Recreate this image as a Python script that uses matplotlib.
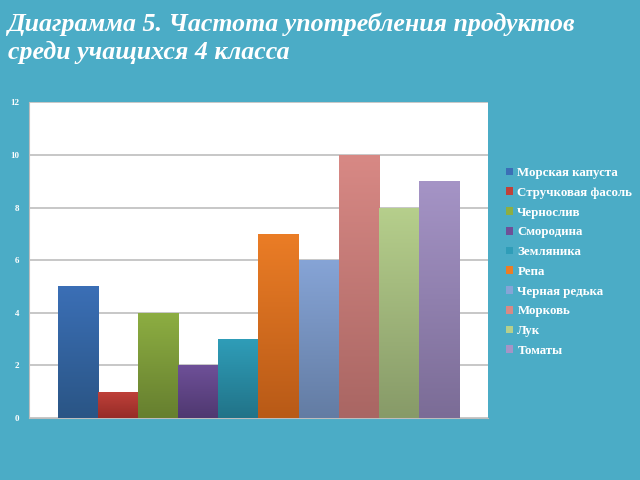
import numpy as np
import matplotlib.pyplot as plt
from matplotlib.colors import LinearSegmentedColormap
from matplotlib.patches import Patch

# Данные диаграммы
produkty = ["Морская капуста", "Стручковая фасоль", "Чернослив", "Смородина",
            "Земляника", "Репа", "Черная редька", "Морковь", "Лук", "Томаты"]
znacheniya = [5, 1, 4, 2, 3, 7, 6, 10, 8, 9]

# Цвета (верх, низ) для градиента
cveta_verh = ["#3B6FB6", "#C0413A", "#8DAE42", "#6E5098", "#2F9DB8",
              "#EB7D26", "#86A4D6", "#D88985", "#B6CF8C", "#A594C6"]
cveta_niz = ["#2A5585", "#962C27", "#667F2F", "#4F3870", "#217388",
             "#B85A17", "#637CA3", "#A96663", "#879A68", "#7B6C96"]

fon = "#4BACC6"
plt.rcParams["font.family"] = ["Liberation Serif", "DejaVu Serif"]

fig = plt.figure(figsize=(6.4, 4.8), dpi=100, facecolor=fon)
ax = fig.add_axes([0.0453, 0.129, 0.717, 0.658])
ax.set_facecolor("white")

x = np.arange(len(znacheniya))
bary = ax.bar(x, znacheniya, width=1.0, align="edge", color=cveta_verh,
              edgecolor="none", zorder=2)

# градиент внутри столбцов
grad = np.linspace(1, 0, 256).reshape(-1, 1)
for b, cv, cn in zip(bary, cveta_verh, cveta_niz):
    cmap = LinearSegmentedColormap.from_list("g", [cn, cv])
    x0, y0 = b.get_x(), b.get_y()
    im = ax.imshow(grad, cmap=cmap, aspect="auto", zorder=3,
                   extent=[x0, x0 + b.get_width(), y0, y0 + b.get_height()])
    im.set_clip_path(b)

ax.set_xlim(-0.725, 10.725)
ax.set_ylim(0, 12)
ax.set_yticks(range(0, 13, 2))
ax.set_xticks([])
ax.yaxis.grid(True, color="#BDBDBD", linewidth=1.2, zorder=0)
ax.set_axisbelow(True)
for s in ["top", "right"]:
    ax.spines[s].set_visible(False)
ax.spines["left"].set_color("#BDBDBD")
ax.spines["bottom"].set_color("#BDBDBD")
ax.tick_params(axis="y", length=0, labelsize=6.5, labelcolor="white", pad=7)
for t in ax.get_yticklabels():
    t.set_fontweight("bold")

handles = [Patch(facecolor=c, edgecolor="none") for c in cveta_verh]
leg = fig.legend(handles, produkty, loc="upper left", bbox_to_anchor=(0.772, 0.676),
                 frameon=False, handlelength=0.55, handleheight=0.55,
                 handletextpad=0.35, labelspacing=0.6, labelcolor="white",
                 prop={"weight": "bold", "size": 9.3})

fig.text(0.012, 0.975, "Диаграмма 5. Частота употребления продуктов\nсреди учащихся 4 класса",
         color="white", fontsize=18.6, fontweight="bold", fontstyle="italic",
         va="top", ha="left", linespacing=1.32)

fig.savefig("out.png", dpi=100, facecolor=fon)
